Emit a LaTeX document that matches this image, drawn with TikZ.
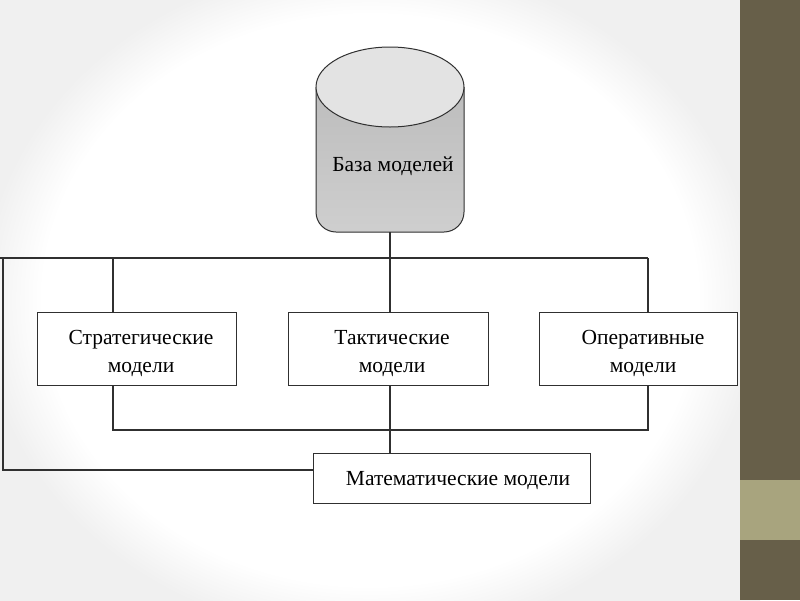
\documentclass[tikz,border=0pt]{standalone}
\usepackage{fontspec}
\setmainfont{Liberation Serif}
\usetikzlibrary{calc,shadows}
\definecolor{stripe}{HTML}{675F49}
\definecolor{band}{HTML}{A8A47E}
\definecolor{ln}{HTML}{303030}
\pgfdeclareradialshading{bgshade}{\pgfpoint{0bp}{0bp}}{color(0bp)=(white); color(21bp)=(white); color(25bp)=(gray!12); color(50bp)=(gray!12)}
\tikzset{
  box/.style={draw=ln, line width=1pt, fill=white, inner sep=0pt,
    drop shadow={shadow xshift=1.2pt, shadow yshift=-1.2pt, fill=gray!70, opacity=1}},
  lbl/.style={font=\fontsize{21.5}{28}\selectfont, align=center, inner sep=0pt},
  wire/.style={draw=ln, line width=1.1pt}
}
\begin{document}
\begin{tikzpicture}[x=1pt,y=-1pt]
\useasboundingbox (0,0) rectangle (800,600);
% background
\shade[shading=bgshade] (-20,-40) rectangle (760,640);
\fill[stripe] (740,0) rectangle (800,600);
\fill[band] (740,480) rectangle (800,540);
% cylinder
\shade[top color=gray!52, bottom color=gray!38] (316,87) [rounded corners=20pt] -- (316,232) -- (464,232) -- (464,87);
\draw[ln, line width=1pt] (316,87) [rounded corners=20pt] -- (316,232) -- (464,232) -- (464,87);
\filldraw[fill=gray!22, draw=ln, line width=1pt] (390,87) ellipse [x radius=74, y radius=40];
\node[lbl] (db) at (393,166) {База моделей};
\coordinate (dbb) at (390,232);
% boxes
\node[box, minimum width=199, minimum height=73] (strat) at (136.5,348.5) {};
\node[lbl] (stratt) at (141,353) {Стратегические\strut\\модели\strut};
\node[box, minimum width=200, minimum height=73] (takt) at (388,348.5) {};
\node[lbl] (taktt) at (392,353) {Тактические\strut\\модели\strut};
\node[box, minimum width=198, minimum height=73] (oper) at (638,348.5) {};
\node[lbl] (opert) at (643,353) {Оперативные\strut\\модели\strut};
\node[box, minimum width=277, minimum height=50] (math) at (451.5,478) {};
\node[lbl] (matht) at (458,481) {Математические модели};
% coordinates
\coordinate (xa) at (113,258);
\coordinate (xb) at (390,258);
\coordinate (xc) at (648,258);
\coordinate (lft) at (3,258);
\coordinate (lb) at (3,470);
\coordinate (bl) at (113,430);
\coordinate (br) at (648,430);
% wires
\draw[wire] (0,258) -- (xc);
\draw[wire] (dbb) -- (xb) -- (xb |- takt.north);
\draw[wire] (xa) -- (xa |- strat.north);
\draw[wire] (xc) -- (xc |- oper.north);
\draw[wire] (lft) -- (lb) -- (lb -| math.west);
\draw[wire] (xa |- strat.south) -- (bl) -- (br) -- (xc |- oper.south);
\draw[wire] (xb |- takt.south) -- (xb |- math.north);
\end{tikzpicture}
\end{document}
